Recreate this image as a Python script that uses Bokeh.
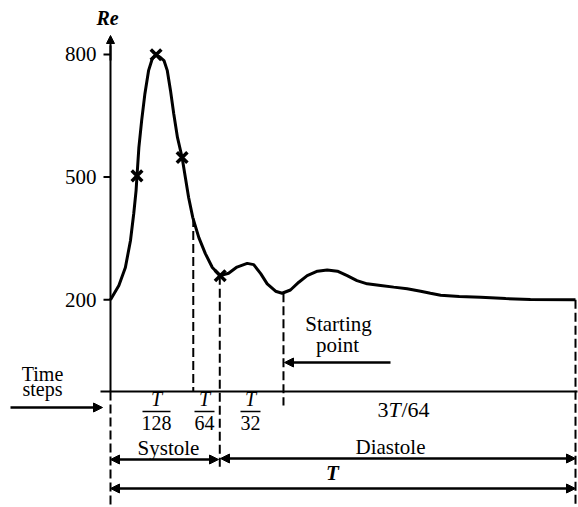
import numpy as np
from bokeh.plotting import figure
from bokeh.models import Range1d, Arrow, NormalHead
from bokeh.core.properties import value
from bokeh.embed import file_html
from bokeh.resources import INLINE

# ---------------- data (time as fraction of period T, Reynolds number) ----------------
time_t = [0.000, 0.018, 0.032, 0.043, 0.050, 0.055, 0.057, 0.061, 0.067, 0.074,
          0.082, 0.090, 0.098, 0.107, 0.115, 0.122, 0.129, 0.136, 0.144, 0.154,
          0.161, 0.168, 0.177, 0.190, 0.204, 0.219, 0.236, 0.254, 0.272, 0.294,
          0.308, 0.323, 0.337, 0.355, 0.369, 0.387, 0.405, 0.423, 0.445, 0.466,
          0.488, 0.509, 0.530, 0.552, 0.581, 0.609, 0.638, 0.667, 0.688, 0.710,
          0.750, 0.796, 0.850, 0.903, 1.000]
re_values = [200, 235, 279, 345, 411, 467, 503, 572, 638, 704,
             761, 790, 799, 793, 785, 761, 712, 655, 597, 548,
             499, 450, 401, 352, 313, 279, 259, 265, 280, 289,
             286, 264, 239, 221, 216, 224, 243, 259, 270, 273,
             270, 259, 247, 239, 235, 231, 227, 221, 216, 211,
             208, 206, 203, 201, 200]

marker_t = [0.057, 0.098, 0.154, 0.236]
marker_re = [503, 799, 548, 259]

y_ticks = [200, 500, 800]
y_tick_labels = ["200", "500", "800"]

boundary_t = [0.0, 0.178, 0.235, 0.372, 1.0]
boundary_re = [200, 400, 259, 216, 200]

step_num = ["T", "T", "T"]
step_den = ["128", "64", "32"]
phase_labels = ["Systole", "Diastole"]

# ---------------- layout helpers (reference pixel -> data) ----------------
X0_PX, T_PX = 110.0, 465.0
Y200_PX, PX_PER_RE = 299.3, 0.409


def X(px):
    return (px - X0_PX) / T_PX


def Y(py):
    return 200 + (Y200_PX - py) / PX_PER_RE


FONT = value("Liberation Serif")

p = figure(width=578, height=507,
           x_range=Range1d(X(0), X(578)), y_range=Range1d(Y(507), Y(0)),
           output_backend="svg", toolbar_location=None,
           x_axis_location=None, y_axis_location=None,
           min_border=0, outline_line_color=None)
p.background_fill_color = "white"
p.border_fill_color = "white"
p.xgrid.visible = False
p.ygrid.visible = False

AX = Y(391)  # time-step axis level

# y axis line with arrow + ticks
p.segment(x0=[0], y0=[AX], x1=[0], y1=[Y(45)], line_color="black", line_width=2)
p.add_layout(Arrow(end=NormalHead(size=8, fill_color="black", line_color="black"),
                   x_start=0, y_start=Y(60), x_end=0, y_end=Y(35),
                   line_color="black", line_width=2))
p.segment(x0=[X(103)] * len(y_ticks), y0=y_ticks, x1=[0] * len(y_ticks), y1=y_ticks,
          line_color="black", line_width=2)
p.text(x=[X(96)] * len(y_ticks), y=y_ticks, text=y_tick_labels,
       text_align="right", text_baseline="middle",
       text_font=FONT, text_font_size="21px", text_color="black")
p.text(x=[X(107)], y=[Y(17)], text=["Re"], text_align="center", text_baseline="middle",
       text_font=FONT, text_font_size="20px", text_font_style="bold italic",
       text_color="black")

# time-step axis
p.segment(x0=[X(100)], y0=[AX], x1=[X(577)], y1=[AX], line_color="black", line_width=2)

# dashed boundaries
bottoms = [Y(505), AX, Y(468), Y(405), Y(505)]
tops = [AX] + boundary_re[1:]
p.segment(x0=boundary_t, y0=tops, x1=boundary_t, y1=bottoms,
          line_color="black", line_width=2, line_dash="9 4")

# curve and markers
p.line(time_t, re_values, line_color="black", line_width=3)
p.scatter(marker_t, marker_re, marker="x", size=15, line_color="black", line_width=3.5)

# time-step fractions
frac_x = [X(156), X(204), X(250)]
p.text(x=frac_x, y=[Y(398)] * 3, text=step_num, text_align="center", text_baseline="middle",
       text_font=FONT, text_font_size="20px", text_font_style="italic", text_color="black")
p.text(x=frac_x, y=[Y(422)] * 3, text=step_den, text_align="center", text_baseline="middle",
       text_font=FONT, text_font_size="20px", text_color="black")
p.segment(x0=[X(156 - 14), X(204 - 10), X(250 - 10)], y0=[Y(411)] * 3,
          x1=[X(156 + 14), X(204 + 10), X(250 + 10)], y1=[Y(411)] * 3,
          line_color="black", line_width=1.5)
# 3T/64
p.text(x=[X(388)], y=[Y(409)], text=["3"], text_align="right", text_baseline="middle",
       text_font=FONT, text_font_size="22px", text_color="black")
p.text(x=[X(388)], y=[Y(409)], text=["T"], text_align="left", text_baseline="middle",
       text_font=FONT, text_font_size="22px", text_font_style="italic", text_color="black")
p.text(x=[X(401)], y=[Y(409)], text=["/64"], text_align="left", text_baseline="middle",
       text_font=FONT, text_font_size="22px", text_color="black")

# Time steps
p.text(x=[X(42), X(42)], y=[Y(373), Y(388)], text=["Time", "steps"],
       text_align="center", text_baseline="middle",
       text_font=FONT, text_font_size="20px", text_color="black")
head = dict(size=9, fill_color="black", line_color="black")
p.add_layout(Arrow(end=NormalHead(**head), x_start=X(10), y_start=Y(407),
                   x_end=X(102), y_end=Y(407), line_color="black", line_width=2.5))

# Starting point
p.text(x=[X(338), X(337)], y=[Y(323), Y(344)], text=["Starting", "point"],
       text_align="center", text_baseline="middle",
       text_font=FONT, text_font_size="21px", text_color="black")
p.add_layout(Arrow(end=NormalHead(**head), x_start=X(390), y_start=Y(362),
                   x_end=X(284), y_end=Y(362), line_color="black", line_width=2.5))

# Systole / Diastole / T
p.text(x=[X(168), X(390)], y=[Y(447), Y(446)], text=phase_labels,
       text_align="center", text_baseline="middle",
       text_font=FONT, text_font_size="21px", text_color="black")
p.add_layout(Arrow(start=NormalHead(**head), end=NormalHead(**head),
                   x_start=X(110), y_start=Y(459), x_end=X(218), y_end=Y(459),
                   line_color="black", line_width=2.5))
p.add_layout(Arrow(start=NormalHead(**head), end=NormalHead(**head),
                   x_start=X(220), y_start=Y(458), x_end=X(575), y_end=Y(458),
                   line_color="black", line_width=2.5))
p.text(x=[X(332)], y=[Y(472)], text=["T"], text_align="center", text_baseline="middle",
       text_font=FONT, text_font_size="21px", text_font_style="bold italic",
       text_color="black")
p.add_layout(Arrow(start=NormalHead(**head), end=NormalHead(**head),
                   x_start=X(110), y_start=Y(488), x_end=X(575), y_end=Y(488),
                   line_color="black", line_width=2.5))

open("out.html", "w").write(file_html(p, INLINE))
